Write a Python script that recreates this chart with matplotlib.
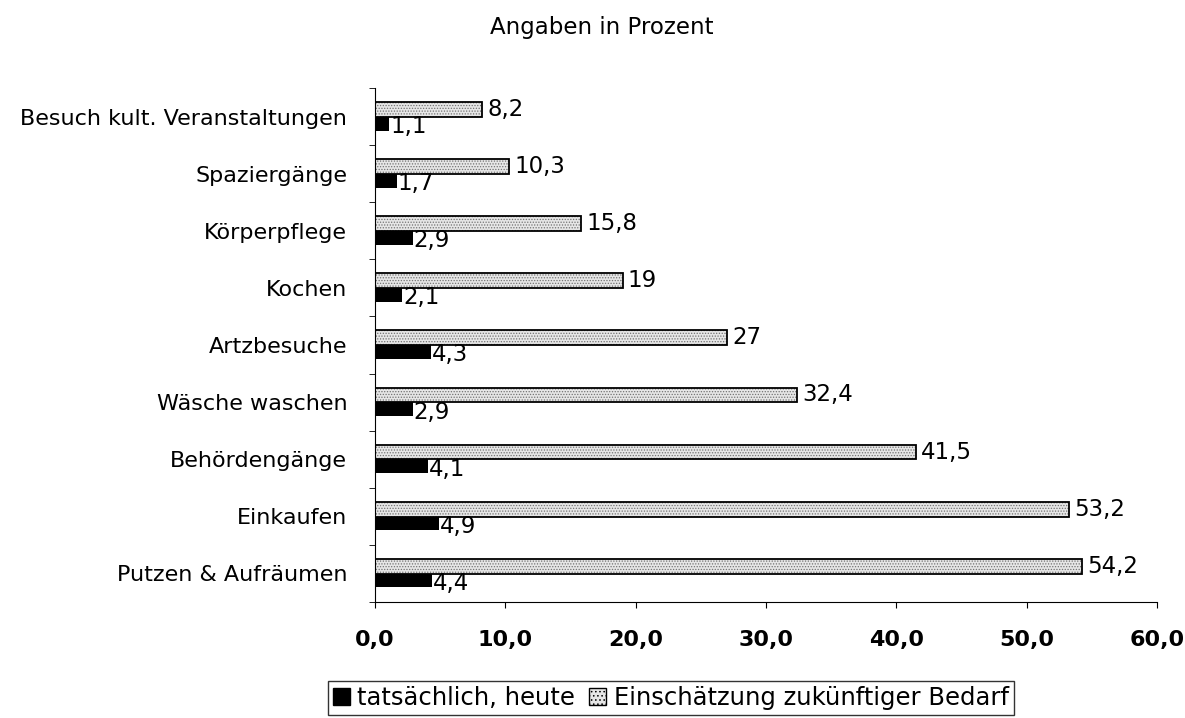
import matplotlib.pyplot as plt
from matplotlib.patches import Patch

plt.rcParams['font.family'] = ['DejaVu Sans']
plt.rcParams['hatch.linewidth'] = 0.6

kategorien = ["Besuch kult. Veranstaltungen", "Spaziergänge", "Körperpflege", "Kochen",
              "Artzbesuche", "Wäsche waschen", "Behördengänge", "Einkaufen", "Putzen & Aufräumen"]
heute = [1.1, 1.7, 2.9, 2.1, 4.3, 2.9, 4.1, 4.9, 4.4]
zukunft = [8.2, 10.3, 15.8, 19, 27, 32.4, 41.5, 53.2, 54.2]
xticks = [0, 10, 20, 30, 40, 50, 60]


def fmt(v):
    return ("%g" % v).replace(".", ",")


fig = plt.figure(figsize=(11.85, 7.18), dpi=100)
ax = fig.add_axes([0.3165, 0.1616, 0.66, 0.7158])

y = list(range(len(kategorien)))
y_z = [i - 0.125 for i in y]
y_h = [i + 0.125 for i in y]

ax.barh(y_z, zukunft, height=0.26, color="#e6e6e6", edgecolor="0.45", hatch="......", linewidth=0)
ax.barh(y_z, zukunft, height=0.26, fill=False, edgecolor="black", linewidth=1.3)
ax.barh(y_h, heute, height=0.24, color="black", linewidth=0)

for yy, v in zip(y_z, zukunft):
    ax.text(v + 0.4, yy, fmt(v), va="center", ha="left", fontsize=16.5)
for yy, v in zip(y_h, heute):
    ax.text(v + 0.05, yy + 0.05, fmt(v), va="center", ha="left", fontsize=16.5)

ax.set_ylim(len(kategorien) - 0.5, -0.5)
ax.set_xlim(0, 60)
ax.set_yticks(y)
ax.set_yticklabels(kategorien, fontsize=16)
ax.tick_params(axis="y", length=0, pad=20)
ax.set_yticks([i - 0.5 for i in range(len(kategorien) + 1)], minor=True)
ax.tick_params(axis="y", which="minor", length=4, direction="out")
ax.set_xticks(xticks)
ax.set_xticklabels([fmt(t) + ",0" for t in xticks], fontsize=16, fontweight="bold")
ax.tick_params(axis="x", length=4, pad=16)
ax.spines["top"].set_visible(False)
ax.spines["right"].set_visible(False)

fig.text(0.508, 0.962, "Angaben in Prozent", ha="center", va="center", fontsize=16.5)

handles = [Patch(facecolor="black", edgecolor="black"),
           Patch(facecolor="#e6e6e6", edgecolor="black", hatch="....")]
leg = fig.legend(handles, ["tatsächlich, heute", "Einschätzung zukünftiger Bedarf"],
                 loc="center", bbox_to_anchor=(0.566, 0.028), ncol=2, fontsize=17.5,
                 frameon=True, fancybox=False, edgecolor="black", handlelength=0.7,
                 handleheight=0.7, handletextpad=0.3, columnspacing=0.6,
                 borderpad=0.2, borderaxespad=0)
leg.get_frame().set_linewidth(1.0)

fig.savefig("out.png", dpi=100)
